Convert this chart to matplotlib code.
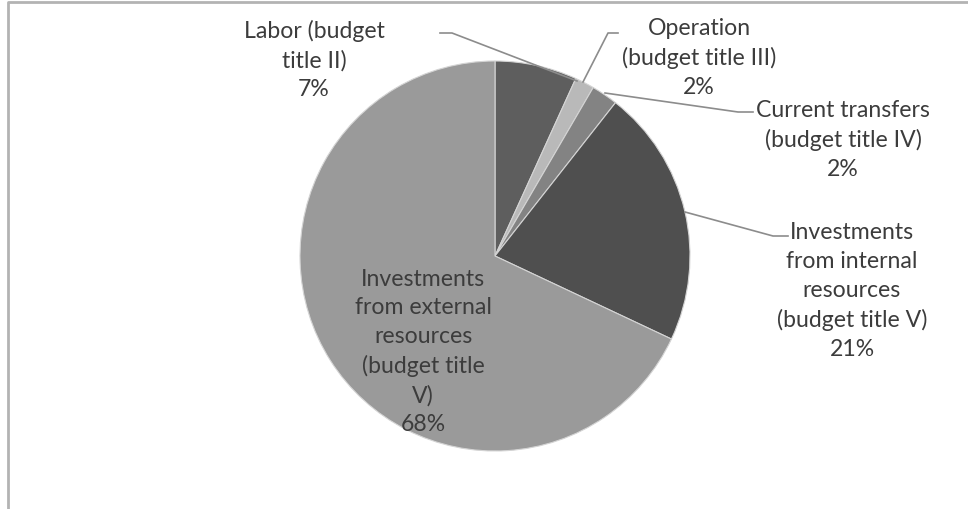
import matplotlib
matplotlib.use("Agg")
import matplotlib.pyplot as plt

# budget structure by title
labels = [
    "Labor (budget\ntitle II)",
    "Operation\n(budget title III)",
    "Current transfers\n(budget title IV)",
    "Investments\nfrom internal\nresources\n(budget title V)",
    "Investments\nfrom external\nresources\n(budget title\nV)",
]
shares = [6.8, 1.6, 2.2, 21.4, 68.0]
colors = ["#5e5e5e", "#b9b9b9", "#838383", "#4f4f4f", "#9a9a9a"]

W, H = 968, 510
fig = plt.figure(figsize=(W / 100, H / 100), dpi=100)
ax = fig.add_axes([0, 0, 1, 1])

# chart area border (top and left only are visible)
ax.plot([8, 8, W], [0, H - 3, H - 3], color="#b3b3b3", lw=2, solid_capstyle="butt")

cx, cy, r = 495, H - 257, 195
ax.pie(shares, colors=colors, startangle=90, counterclock=False,
       center=(cx, cy), radius=r, frame=True,
       wedgeprops=dict(edgecolor="#d4d4d4", linewidth=0.8))
ax.set_xlim(0, W)
ax.set_ylim(0, H)
ax.set_aspect("equal")
ax.axis("off")

txt = dict(fontsize=16.6, color="#3c3c3c", ha="center", va="center",
           family=["Lato", "DejaVu Sans"], linespacing=1.45)


def y(p):
    return H - p


def pct(v):
    return f"{v:.0f}%"


# outside labels with leader lines (pixel positions)
ax.text(314, y(60), labels[0] + "\n" + pct(shares[0]), **txt)
ax.plot([440, 452, 577], [y(34), y(34), y(82)], color="#8c8c8c", lw=1.2)

ax.text(699, y(58), labels[1] + "\n" + pct(shares[1]), **txt)
ax.plot([618, 608, 583], [y(34), y(34), y(83)], color="#8c8c8c", lw=1.2)

ax.text(843, y(140), labels[2] + "\n" + pct(shares[2]), **txt)
ax.plot([753, 738, 605], [y(113), y(113), y(94)], color="#8c8c8c", lw=1.2)

ax.text(852, y(291), labels[3] + "\n" + pct(shares[3]), **txt)
ax.plot([788, 773, 685], [y(237), y(237), y(213)], color="#8c8c8c", lw=1.2)

# label inside the largest slice
ax.text(423, y(352), labels[4] + "\n" + pct(shares[4]), **txt)

fig.savefig("out.png", dpi=100)
